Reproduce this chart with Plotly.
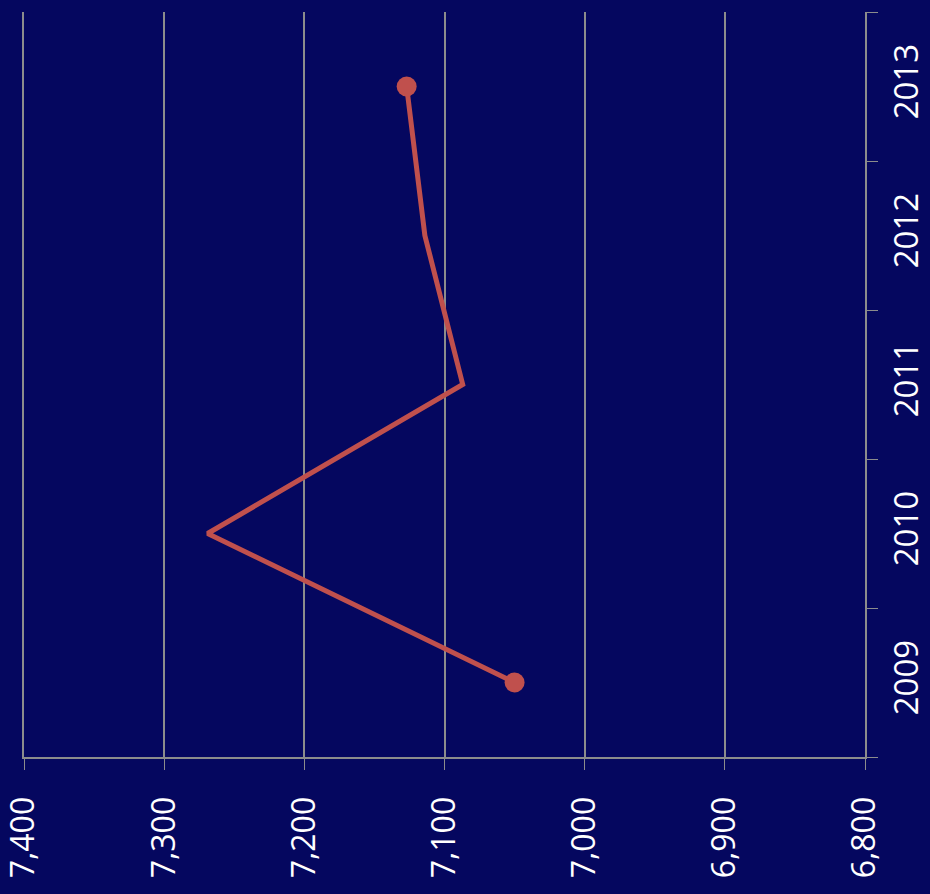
import plotly.graph_objects as go

years = ["2009", "2010", "2011", "2012", "2013"]
values = [7050, 7269, 7087, 7114, 7127]
marker_sizes = [20, 0, 0, 0, 20]

bg = "#05075F"
grid = "#8C8C8C"

fig = go.Figure()
fig.add_trace(go.Scatter(
    x=values,
    y=years,
    mode="lines+markers",
    line={"color": "#C0504D", "width": 5},
    marker={"size": marker_sizes, "color": "#C0504D", "opacity": 1,
            "line": {"width": 0}},
    showlegend=False,
    hoverinfo="skip",
))

fig.update_layout(
    width=930,
    height=894,
    paper_bgcolor=bg,
    plot_bgcolor=bg,
    margin={"l": 24, "r": 65, "t": 12, "b": 137, "autoexpand": False},
    font={"family": "Open Sans", "color": "white", "size": 32},
    xaxis={
        "range": [7400, 6800],
        "dtick": 100,
        "tickformat": ",",
        "tickangle": -90,
        "ticks": "outside",
        "ticklen": 11,
        "tickcolor": grid,
        "ticklabelstandoff": 14,
        "showline": True,
        "linecolor": grid,
        "linewidth": 2,
        "showgrid": True,
        "gridcolor": grid,
        "gridwidth": 1.5,
        "zeroline": False,
        "automargin": False,
        "ticklabeloverflow": "allow",
    },
    yaxis={
        "type": "category",
        "categoryorder": "array",
        "categoryarray": years,
        "range": [-0.5, 4.5],
        "side": "right",
        "tickson": "boundaries",
        "tickangle": -90,
        "ticks": "outside",
        "ticklen": 11,
        "tickcolor": grid,
        "ticklabelstandoff": 12,
        "tickfont": {"size": 33},
        "showline": True,
        "mirror": True,
        "linecolor": grid,
        "linewidth": 1.5,
        "showgrid": False,
        "zeroline": False,
        "automargin": False,
        "ticklabeloverflow": "allow",
    },
)

# drop the default page margin so the figure sits at the window's corner
fig.write_html("out.html",
               config={"displayModeBar": False},
               post_script="document.body.style.margin='0';"
                           "document.body.style.background='#05075F';")
